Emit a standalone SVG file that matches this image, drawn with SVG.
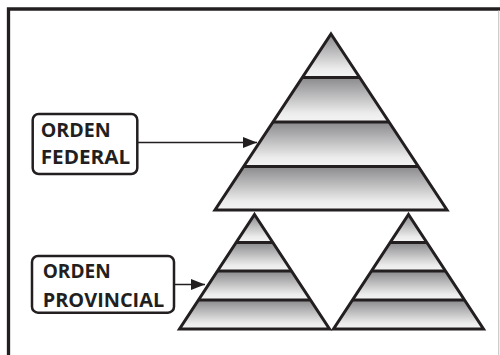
<svg xmlns="http://www.w3.org/2000/svg" width="500" height="355" viewBox="0 0 500 355">
  <style>
    .band { stroke: none; }
    .edge { fill: none; stroke: #231f20; stroke-width: 3; stroke-linejoin: miter; }
    .box { fill: #ffffff; stroke: #231f20; stroke-width: 2.5; }
    .lbl { font-family: "Open Sans", "Liberation Sans", sans-serif; font-weight: 700; font-size: 19px; fill: #231f20; }
    .conn { stroke: #231f20; stroke-width: 1.5; fill: none; }
  </style>
  <defs>
    <linearGradient id="g" x1="0" y1="0" x2="0" y2="1">
      <stop offset="0" stop-color="#8a8a8d"/>
      <stop offset="0.8" stop-color="#ececec"/>
      <stop offset="1" stop-color="#f4f4f4"/>
    </linearGradient>
    <marker id="ah" markerUnits="userSpaceOnUse" markerWidth="15" markerHeight="11" refX="14" refY="5.5" orient="auto">
      <path d="M0,0 L14,5.5 L0,11 Z" fill="#231f20"/>
    </marker>
  </defs>
  <rect x="0" y="0" width="500" height="355" fill="#ffffff"/>
  <g id="frame">
    <path d="M8.5,355 V9 H500" fill="none" stroke="#231f20" stroke-width="3.3"/>
    <line x1="498.7" y1="10.5" x2="498.7" y2="355" stroke="#c8c8c8" stroke-width="1.2"/>
  </g>

  <g id="piramide-federal">
    <polygon class="band" fill="url(#g)" points="331,34 359.7,77.5 302.3,77.5"/>
    <polygon class="band" fill="url(#g)" points="302.3,77.5 359.7,77.5 389,122 273,122"/>
    <polygon class="band" fill="url(#g)" points="273,122 389,122 418.3,166.5 243.7,166.5"/>
    <polygon class="band" fill="url(#g)" points="243.7,166.5 418.3,166.5 447,210 215,210"/>
    <polygon class="edge" points="331,34 447,210 215,210"/>
    <path class="edge" d="M302.3,77.5 H359.7 M273,122 H389 M243.7,166.5 H418.3"/>
  </g>

  <g id="piramide-provincial-1">
    <polygon class="band" fill="url(#g)" points="254.5,214.5 272.8,242.5 236.2,242.5"/>
    <polygon class="band" fill="url(#g)" points="236.2,242.5 272.8,242.5 291.5,271 217.5,271"/>
    <polygon class="band" fill="url(#g)" points="217.5,271 291.5,271 310.5,300 198.5,300"/>
    <polygon class="band" fill="url(#g)" points="198.5,300 310.5,300 329.5,329 179.5,329"/>
    <polygon class="edge" points="254.5,214.5 329.5,329 179.5,329"/>
    <path class="edge" d="M236.2,242.5 H272.8 M217.5,271 H291.5 M198.5,300 H310.5"/>
  </g>

  <g id="piramide-provincial-2">
    <polygon class="band" fill="url(#g)" points="408.5,214.5 426.8,242.5 390.2,242.5"/>
    <polygon class="band" fill="url(#g)" points="390.2,242.5 426.8,242.5 445.5,271 371.5,271"/>
    <polygon class="band" fill="url(#g)" points="371.5,271 445.5,271 464.5,300 352.5,300"/>
    <polygon class="band" fill="url(#g)" points="352.5,300 464.5,300 483.5,329 333.5,329"/>
    <polygon class="edge" points="408.5,214.5 483.5,329 333.5,329"/>
    <path class="edge" d="M390.2,242.5 H426.8 M371.5,271 H445.5 M352.5,300 H464.5"/>
  </g>

  <g id="orden-federal">
    <rect class="box" x="32.7" y="114" width="104.6" height="60" rx="6"/>
    <text class="lbl" x="40.7" y="137.3" textLength="70" lengthAdjust="spacingAndGlyphs">ORDEN</text>
    <text class="lbl" x="40.7" y="164" textLength="89.5" lengthAdjust="spacingAndGlyphs">FEDERAL</text>
  </g>

  <g id="orden-provincial">
    <rect class="box" x="32" y="256" width="142" height="56.7" rx="6"/>
    <text class="lbl" x="42.7" y="278.3" textLength="68" lengthAdjust="spacingAndGlyphs">ORDEN</text>
    <text class="lbl" x="42.7" y="306.7" textLength="121.5" lengthAdjust="spacingAndGlyphs">PROVINCIAL</text>
  </g>

  <g id="conectores">
    <line class="conn" x1="137.5" y1="142.5" x2="257" y2="142.5" marker-end="url(#ah)"/>
    <line class="conn" x1="174" y1="284.5" x2="205" y2="284.5" marker-end="url(#ah)"/>
  </g>
</svg>
